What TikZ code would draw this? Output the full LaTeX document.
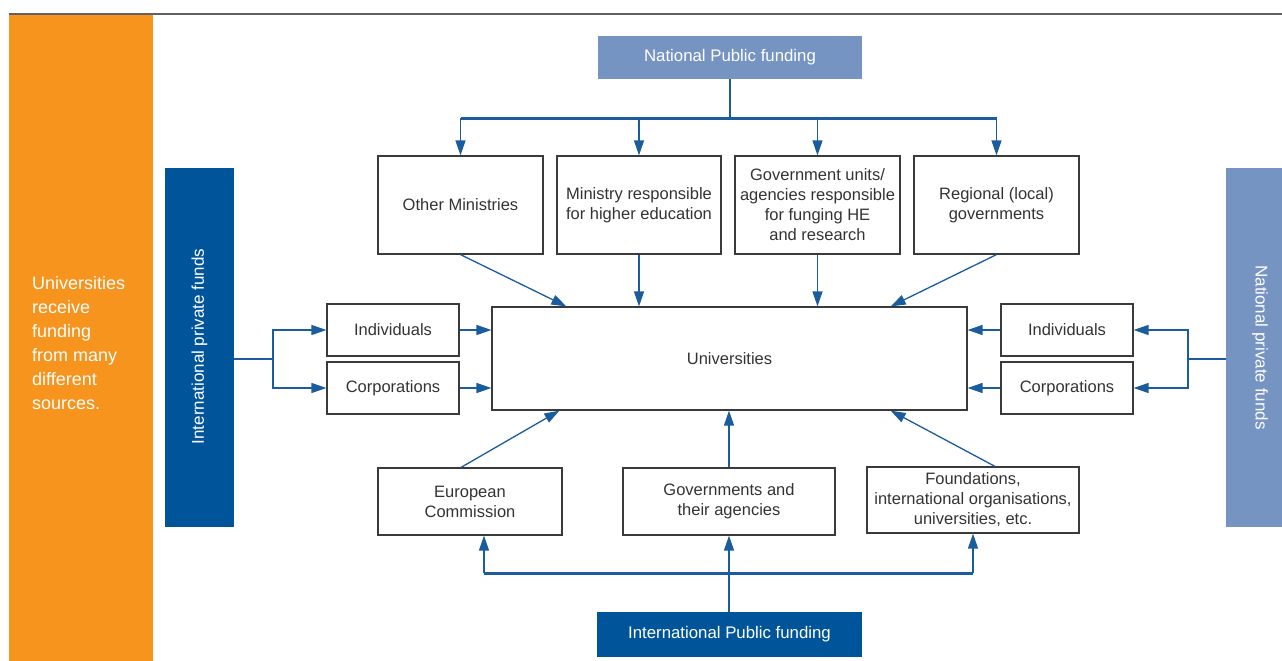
\documentclass[tikz,border=0pt]{standalone}
\usepackage{fontspec}
\setmainfont{Liberation Sans}
\usetikzlibrary{arrows.meta,calc}
\definecolor{orangeC}{HTML}{F7941E}
\definecolor{darkblue}{HTML}{00559A}
\definecolor{lightblue}{HTML}{7594C2}
\definecolor{arrowblue}{HTML}{1A5C9E}
\definecolor{boxgray}{HTML}{3A3A3A}
\definecolor{txt}{HTML}{333333}
\begin{document}
\begin{tikzpicture}[x=1pt,y=-1pt,
  box/.style={draw=boxgray,line width=1.2pt,text=txt,align=center,inner sep=0pt,
    font=\fontsize{16.5}{20}\selectfont},
  fund/.style={inner sep=0pt,text=white,align=center,font=\fontsize{16.8}{20}\selectfont},
  arr/.style={draw=arrowblue,line width=1.3pt,-{Triangle[length=15pt,width=10pt]}},
  conn/.style={draw=arrowblue,line width=1.2pt},
  bar/.style={draw=arrowblue,line width=3pt}]
\useasboundingbox (0,0) rectangle (1282,661);
% header line
\draw[draw=boxgray!80,line width=1.5pt] (9,14) -- (1282,14);
% orange side panel
\node[fill=orangeC,minimum width=144pt,minimum height=646pt,inner sep=0pt] (orange) at (81,338) {};
\node[anchor=west,text=white,align=left,inner sep=0pt,font=\fontsize{18}{24}\selectfont] (otext) at (32,343)
  {Universities\\receive\\funding\\from many\\different\\sources.};
% private fund bars
\node[fill=darkblue,minimum width=69pt,minimum height=359pt,inner sep=0pt] (lpriv) at (199.5,347.5) {};
\node[fund,rotate=90,font=\fontsize{17}{20}\selectfont] (lptext) at ([yshift=1pt]lpriv.center) {International private funds};
\node[fill=lightblue,minimum width=56pt,minimum height=359pt,inner sep=0pt] (rpriv) at (1254,347.5) {};
\node[fund,rotate=-90,font=\fontsize{17}{20}\selectfont] (rptext) at ([xshift=6pt]rpriv.center) {National private funds};
% public funding
\node[fund,fill=lightblue,minimum width=264pt,minimum height=43pt] (nat) at (730,57.5) {National Public funding};
\node[fund,fill=darkblue,minimum width=265pt,minimum height=45pt] (ipf) at (729.5,634.5) {International Public funding};
% top boxes
\node[box,minimum width=165pt,minimum height=98pt] (om) at (460.5,205) {Other Ministries};
\node[box,minimum width=164pt,minimum height=98pt] (mr) at (639,205) {Ministry responsible\\for higher education};
\node[box,minimum width=165pt,minimum height=98pt] (gu) at (817.5,205) {Government units/\\agencies responsible\\for funging HE\\and research};
\node[box,minimum width=165pt,minimum height=98pt] (rg) at (996.5,205) {Regional (local)\\governments};
% universities
\node[box,minimum width=475pt,minimum height=103pt] (uni) at (729.5,358.5) {Universities};
% side boxes
\node[box,minimum width=132pt,minimum height=52pt] (li) at (393,330) {Individuals};
\node[box,minimum width=132pt,minimum height=52pt] (lc) at (393,388) {Corporations};
\node[box,minimum width=132pt,minimum height=52pt] (ri) at (1067,330) {Individuals};
\node[box,minimum width=132pt,minimum height=52pt] (rc) at (1067,388) {Corporations};
% bottom boxes
\node[box,minimum width=184pt,minimum height=67pt] (ec) at (470,501.5) {European\\Commission};
\node[box,minimum width=212pt,minimum height=67pt] (ga) at (729,501.5) {Governments and\\their agencies};
\node[box,minimum width=212pt,minimum height=66pt] (fo) at (973,500) {Foundations,\\international organisations,\\universities, etc.};
% top distribution
\coordinate (tb) at (730,118);
\draw[conn] (nat.south) -- (tb);
\draw[bar] (om.north |- tb) -- (rg.north |- tb);
\foreach \n in {om,mr,gu,rg} \draw[arr] (\n.north |- tb) -- (\n.north);
% top boxes to universities
\draw[arr] (om.south) -- ([xshift=75pt]uni.north west);
\draw[arr] (mr.south) -- (mr.south |- uni.north);
\draw[arr] (gu.south) -- (gu.south |- uni.north);
\draw[arr] (rg.south) -- ([xshift=-77pt]uni.north east);
% bottom boxes to universities
\draw[arr] ([xshift=-9pt]ec.north) -- ([xshift=68pt]uni.south west);
\draw[arr] (ga.north) -- (ga.north |- uni.south);
\draw[arr] ([xshift=22pt]fo.north) -- ([xshift=-77pt]uni.south east);
% international public distribution
\coordinate (bb) at (729,573);
\draw[arr] (ipf.north -| ga.south) -- (ga.south);
\draw[bar] ([xshift=14pt]ec.south |- bb) -- (fo.south |- bb);
\draw[arr] ([xshift=14pt]ec.south |- bb) -- ([xshift=14pt]ec.south);
\draw[arr] (fo.south |- bb) -- (fo.south);
% left private branch
\coordinate (lb) at (273,359);
\draw[conn] (lpriv.east |- lb) -- (lb);
\draw[arr] (lb) |- (li.west);
\draw[arr] (lb) |- (lc.west);
\draw[arr] (li.east) -- (li.east -| uni.west);
\draw[arr] (lc.east) -- (lc.east -| uni.west);
% right private branch
\coordinate (rb) at (1188,359);
\draw[conn] (rpriv.west |- rb) -- (rb);
\draw[arr] (rb) |- (ri.east);
\draw[arr] (rb) |- (rc.east);
\draw[arr] (ri.west) -- (ri.west -| uni.east);
\draw[arr] (rc.west) -- (rc.west -| uni.east);
\end{tikzpicture}
\end{document}
